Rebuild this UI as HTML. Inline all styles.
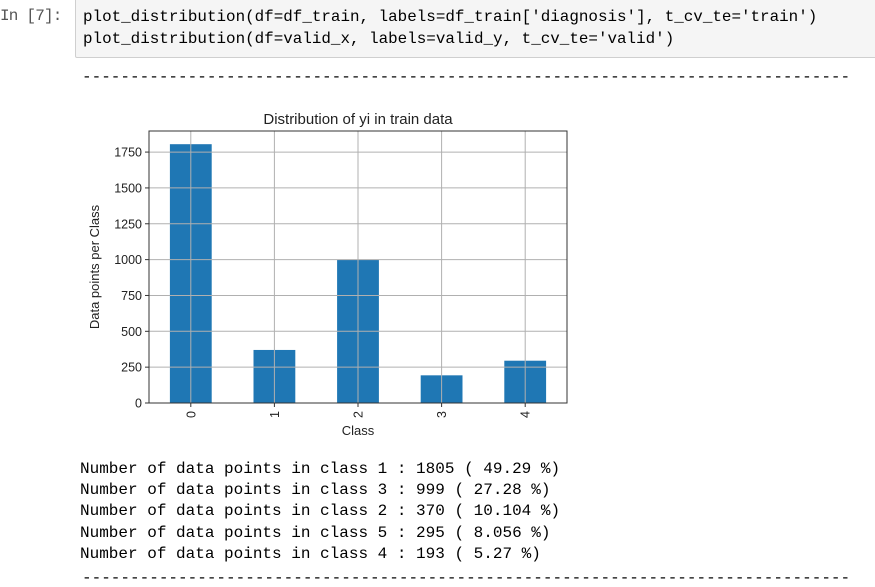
<!DOCTYPE html>
<html><head><meta charset="utf-8">
<style>
body{margin:0;width:875px;height:582px;background:#fff;position:relative;overflow:hidden;font-family:"Liberation Sans",sans-serif}
.prompt{position:absolute;left:0;top:7px;font-family:"Liberation Mono",monospace;font-size:16px;color:#555;letter-spacing:-0.8px}
.cell{position:absolute;left:75px;top:-2px;width:820px;height:58px;background:#f5f5f5;border:1px solid #cfcfcf;border-radius:2px}
.code{position:absolute;left:83px;top:6px;font-family:"Liberation Mono",monospace;font-size:15.9px;line-height:22px;color:#000;white-space:pre}
.out{position:absolute;left:80px;font-family:"Liberation Mono",monospace;font-size:16px;white-space:pre;color:#000;line-height:21.2px}
.dash{position:absolute;font-family:"Liberation Mono",monospace;font-size:16px;white-space:pre;color:#000;overflow:hidden}
</style></head><body>
<div class="prompt">In [7]:</div>
<div class="cell"></div>
<div class="code">plot_distribution(df=df_train, labels=df_train['diagnosis'], t_cv_te='train')
plot_distribution(df=valid_x, labels=valid_y, t_cv_te='valid')</div>
<div class="dash" style="left:82px;top:68px;width:768px">--------------------------------------------------------------------------------</div>
<svg id="chart" style="position:absolute;left:0;top:0" width="875" height="450"></svg>
<div class="out" style="top:459px">Number of data points in class 1 : 1805 ( 49.29 %)
Number of data points in class 3 : 999 ( 27.28 %)
Number of data points in class 2 : 370 ( 10.104 %)
Number of data points in class 5 : 295 ( 8.056 %)
Number of data points in class 4 : 193 ( 5.27 %)</div>
<div class="dash" style="left:82px;top:569px;width:768px">--------------------------------------------------------------------------------</div>
<script>
const categories=["0","1","2","3","4"];
const values=[1805,370,999,193,295];
const yTicks=[0,250,500,750,1000,1250,1500,1750];
const NS="http://www.w3.org/2000/svg";
const svg=document.getElementById('chart');
const L=149,R=567,T=131,B=403,yMax=1897;
const x=i=>L+(i+0.5)*(R-L)/categories.length;
const y=v=>B-v*(B-T)/yMax;
const bw=0.5*(R-L)/categories.length;
function mk(tag,attrs){const e=document.createElementNS(NS,tag);for(const k in attrs)e.setAttribute(k,attrs[k]);svg.appendChild(e);return e;}
values.forEach((v,i)=>{
 const r=mk('rect',{x:x(i)-bw/2,y:y(v),width:bw,height:B-y(v),fill:'#1f77b4'});
 
 
});
yTicks.forEach(t=>{
 const g=mk('line',{x1:L,x2:R,y1:y(t),y2:y(t),stroke:'#b0b0b0','stroke-width':1});
 
 
 mk('line',{x1:L-4,x2:L,y1:y(t),y2:y(t),stroke:'#333'});
 const tx=mk('text',{x:L-7,y:y(t)+4.5,'text-anchor':'end','font-size':'12.5',fill:'#222'});
 tx.textContent=t;
 
 
});
categories.forEach((c,i)=>{
 const g=mk('line',{x1:x(i),x2:x(i),y1:T,y2:B,stroke:'#b0b0b0','stroke-width':1});
 
 
 mk('line',{x1:x(i),x2:x(i),y1:B,y2:B+4,stroke:'#333'});
 const tx=mk('text',{x:0,y:0,'text-anchor':'end','font-size':'12.5',fill:'#222',transform:`translate(${x(i)+4.5},${B+8}) rotate(-90)`});
 tx.textContent=c;
 
 
});
const fr=mk('rect',{x:L,y:T,width:R-L,height:B-T,fill:'none',stroke:'#333','stroke-width':1});


const ti=mk('text',{x:(L+R)/2,y:T-7,'text-anchor':'middle','font-size':'15',fill:'#222'});
ti.textContent='Distribution of yi in train data';


const xl=mk('text',{x:(L+R)/2,y:435,'text-anchor':'middle','font-size':'13',fill:'#222'});
xl.textContent='Class';


const yl=mk('text',{x:0,y:0,'text-anchor':'middle','font-size':'13',fill:'#222',transform:`translate(99,${(T+B)/2}) rotate(-90)`});
yl.textContent='Data points per Class';


</script>
</body></html>
